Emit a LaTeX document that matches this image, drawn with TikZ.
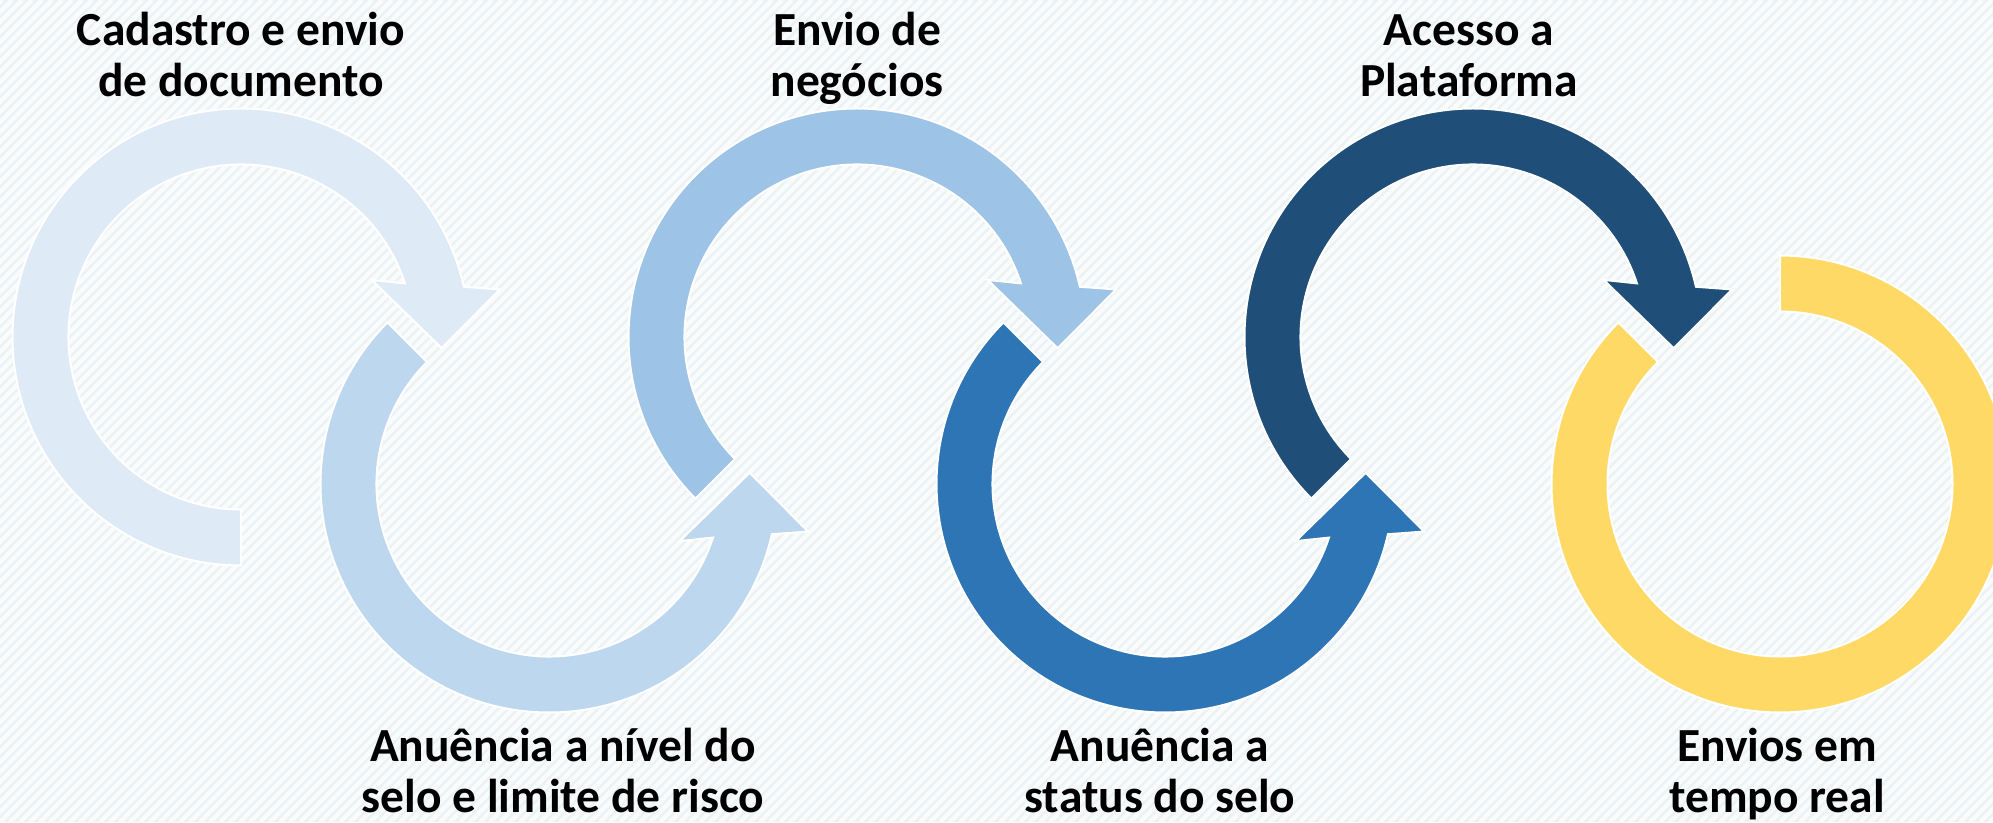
\documentclass[tikz,border=0pt]{standalone}
\usepackage{fontspec}
\setmainfont{Carlito}
\usetikzlibrary{calc}
\definecolor{tintA}{HTML}{DEEBF7}
\definecolor{tintB}{HTML}{BDD7EE}
\definecolor{tintC}{HTML}{9DC3E6}
\definecolor{darkD}{HTML}{2E75B6}
\definecolor{darkE}{HTML}{1F4E79}
\definecolor{gold}{HTML}{FFD966}
\definecolor{paper}{HTML}{EAF2F4}
\definecolor{stripe}{HTML}{F9FBFC}
\tikzset{
  lbl/.style={font=\bfseries\fontsize{47.5}{51}\selectfont, align=center, anchor=base, inner sep=0pt},
  ring/.style={draw=white, line width=2pt, line join=miter},
}
% circular arrow round the local origin: colour, start angle
\newcommand{\turnarrow}[2]{%
  \path[ring,fill=#1] (#2:228.5) arc[start angle=#2,end angle=12.7,radius=228.5]
    -- (10.4:263.4) -- (-3.2:201) -- (23.6:142.6) -- (18.1:172.5)
    arc[start angle=18.1,end angle=#2,radius=172.5] -- cycle;}

\begin{document}
\begin{tikzpicture}[x=1pt,y=1pt]
  \clip (0,0) rectangle (1993,822);
  \fill[paper] (0,0) rectangle (1993,822);
  \foreach \s in {-830,-820,...,1990}
    \draw[stripe, line width=4.5pt] (\s,0) -- ++(822,822);

  % centres of the six rings
  \coordinate (c_1) at (241,485);
  \coordinate (c_2) at (549,338);
  \coordinate (c_3) at (857,485);
  \coordinate (c_4) at (1165,338);
  \coordinate (c_5) at (1473,485);
  \coordinate (c_6) at (1780,338);

  \begin{scope}[shift={(c_1)}] \turnarrow{tintA}{270} \end{scope}
  \begin{scope}[shift={(c_2)},yscale=-1] \turnarrow{tintB}{225} \end{scope}
  \begin{scope}[shift={(c_3)}] \turnarrow{tintC}{225} \end{scope}
  \begin{scope}[shift={(c_4)},yscale=-1] \turnarrow{darkD}{225} \end{scope}
  \begin{scope}[shift={(c_5)}] \turnarrow{darkE}{225} \end{scope}
  \path[ring,fill=gold] (c_6) ++(135:228.5) arc[start angle=135,end angle=450,radius=228.5]
    -- ++(0,-56) arc[start angle=450,end angle=135,radius=172.5] -- cycle;

  % labels (base = last line)
  \node[lbl] (t_1) at ($(c_1)+(0,240.5)$) {Cadastro e envio\\de documento};
  \node[lbl] (t_2) at ($(c_2)+(14,-328)$) {Anuência a nível do\\selo e limite de risco};
  \node[lbl] (t_3) at ($(c_3)+(0,240.5)$) {Envio de\\negócios};
  \node[lbl] (t_4) at ($(c_4)+(-5,-328)$) {Anuência a\\status do selo};
  \node[lbl] (t_5) at ($(c_5)+(-4,240.5)$) {Acesso a\\Plataforma};
  \node[lbl] (t_6) at ($(c_6)+(-3,-328)$) {Envios em\\tempo real};
\end{tikzpicture}
\end{document}
